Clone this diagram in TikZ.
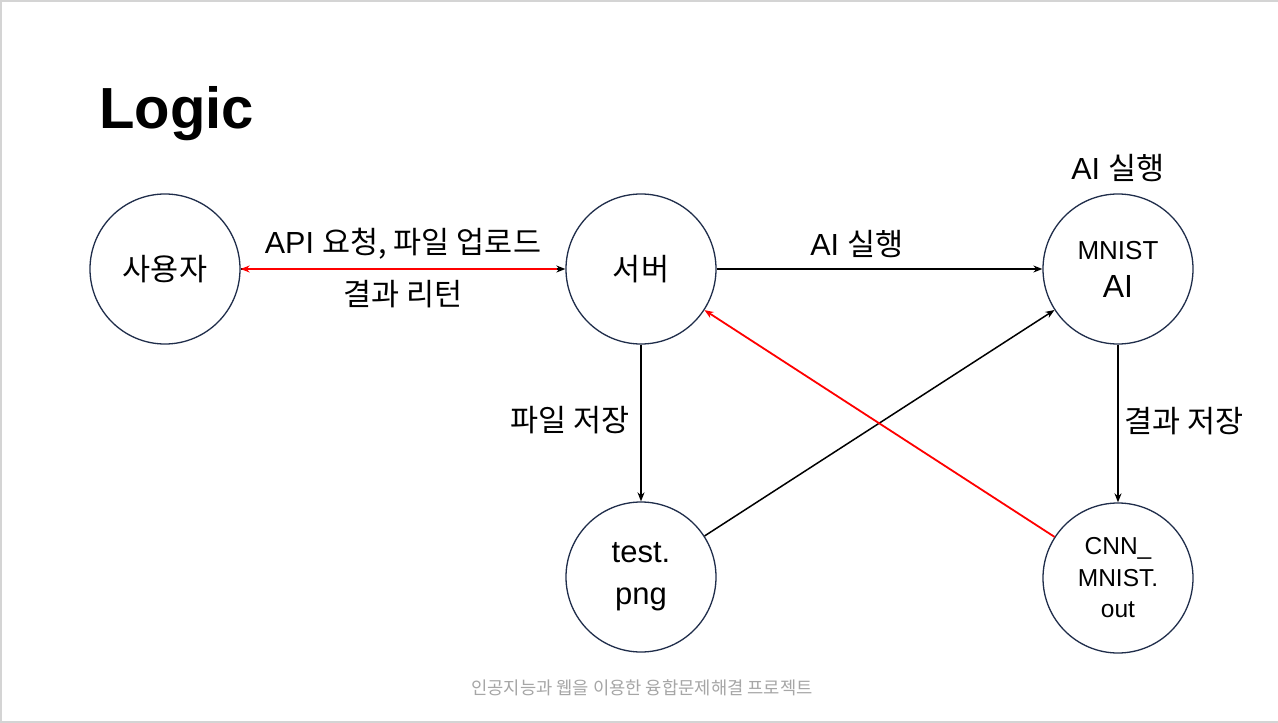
\documentclass[tikz,border=0pt]{standalone}
\usepackage{fontspec}
\setmainfont{Liberation Sans}
\newfontfamily\kr{Noto Sans CJK KR}
\usetikzlibrary{arrows.meta}
\definecolor{ring}{HTML}{1F2D4A}
\definecolor{frame}{HTML}{D4D4D4}
\definecolor{foot}{HTML}{A6A6A6}
\definecolor{redline}{HTML}{FF0000}
\tikzset{
  circ/.style={circle,draw=ring,line width=1.3pt,minimum size=150pt,inner sep=0pt,align=center,font=\fontsize{30.5}{36}\selectfont},
  lbl/.style={inner sep=0pt,font=\fontsize{30.5}{36}\selectfont},
  blk/.style={draw=black,line width=1.5pt,-{Stealth[length=9pt,width=7pt]}},
  rd/.style={draw=redline,line width=1.8pt,-{Stealth[length=9pt,width=7pt]}},
}
\begin{document}
\begin{tikzpicture}[x=1pt,y=-1pt]
\useasboundingbox (0,0) rectangle (1278,723);
\fill[white] (0,0) rectangle (1278,723);
\draw[frame,line width=2pt] (1278,1) -- (1,1) -- (1,722) -- (1278,722);
% title
\node[anchor=base west,inner sep=0pt,font=\bfseries\fontsize{58}{64}\selectfont] (title) at (99,128) {Logic};
% nodes
\node[circ] (user) at (165,269) {\kr 사용자};
\node[circ] (server) at (641,269) {\kr 서버};
\node[circ,font=\fontsize{26}{38}\selectfont] (ai) at (1118,269) {MNIST\\{\fontsize{32}{38}\selectfont AI}};
\node[circ,font=\fontsize{31}{42}\selectfont] (png) at (641,577) {test.\\png};
\node[circ,font=\fontsize{24.5}{31.5}\selectfont] (out) at (1118,578) {CNN\_\\MNIST.\\out};
% connectors
\draw[blk] (user) -- (server);
\draw[rd,shorten <=8pt] (server) -- (user);
\draw[blk] (server) -- (ai);
\draw[blk] (server) -- (png);
\draw[blk] (ai) -- (out);
\draw[blk] (png) -- (ai);
\draw[rd] (out) -- (server);
% labels
\node[lbl] (l1) at (403,244) {API {\kr 요청, 파일 업로드}};
\node[lbl] (l2) at (403,294) {\kr 결과 리턴};
\node[lbl] (l3) at (857,244) {AI {\kr 실행}};
\node[lbl] (l4) at (1118,168) {AI {\kr 실행}};
\node[lbl] (l5) at (570,420) {\kr 파일 저장};
\node[lbl] (l6) at (1184,421) {\kr 결과 저장};
\node[inner sep=0pt,text=foot,font=\kr\fontsize{17.7}{21}\selectfont] (footer) at (642,688) {인공지능과 웹을 이용한 융합문제해결 프로젝트};
\end{tikzpicture}
\end{document}
